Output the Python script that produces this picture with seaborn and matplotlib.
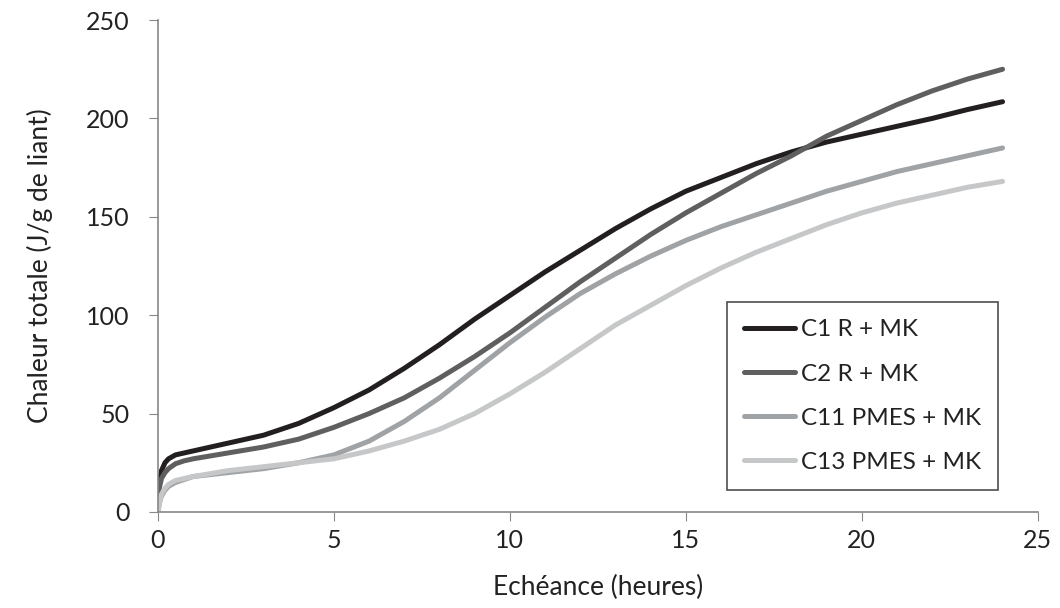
import matplotlib
matplotlib.use("Agg")
import matplotlib.pyplot as plt
import pandas as pd
import seaborn as sns

# heures
hours = [0, 0.05, 0.1, 0.2, 0.3, 0.5, 0.75, 1, 2, 3, 4, 5, 6, 7, 8, 9, 10, 11, 12,
         13, 14, 15, 16, 17, 18, 19, 20, 21, 22, 23, 24]

c1 = [10, 16, 21, 25, 27, 29, 30, 31, 35, 39, 45, 53, 62, 73, 85, 98, 110, 122, 133,
      144, 154, 163, 170, 177, 183, 188, 192, 196, 200, 204.5, 208.5]
c2 = [8, 13, 17, 20, 22, 24.5, 26, 27, 30, 33, 37, 43, 50, 58, 68, 79, 91, 104, 117,
      129, 141, 152, 162, 172, 181, 191, 199, 207, 214, 220, 225]
c11 = [0, 5, 8, 11, 13, 15, 16.5, 18, 20, 22, 25, 29, 36, 46, 58, 72, 86, 99, 111,
       121, 130, 138, 145, 151, 157, 163, 168, 173, 177, 181, 185]
c13 = [0, 5, 9, 12, 14, 16, 17, 18, 21, 23, 25, 27, 31, 36, 42, 50, 60, 71, 83,
       95, 105, 115, 124, 132, 139, 146, 152, 157, 161, 165, 168]

series_names = ["C1 R + MK", "C2 R + MK", "C11 PMES + MK", "C13 PMES + MK"]
series_colors = ["#231f20", "#5f5f5f", "#a0a3a6", "#c6c7c8"]

frames = []
for name, vals in zip(series_names, [c1, c2, c11, c13]):
    frames.append(pd.DataFrame({"heures": hours, "chaleur": vals, "serie": name}))
df = pd.concat(frames, ignore_index=True)

sns.set_style("white")
plt.rcParams["font.family"] = ["Lato", "DejaVu Sans"]

fig = plt.figure(figsize=(10.6, 6.08), dpi=100)
ax = fig.add_axes([0.149, 0.158, 0.830, 0.809])

sns.lineplot(data=df, x="heures", y="chaleur", hue="serie",
             palette=dict(zip(series_names, series_colors)),
             linewidth=3.6, ax=ax, solid_capstyle="round")

ax.set_xlim(0, 25)
ax.set_ylim(0, 250)
ax.set_xticks(range(0, 26, 5))
ax.set_yticks(range(0, 251, 50))
ax.set_xlabel("Echéance (heures)", fontsize=19, color="#222222", labelpad=16)
ax.set_ylabel("Chaleur totale (J/g de liant)", fontsize=19, color="#222222", labelpad=24)
ax.tick_params(axis="both", labelsize=18, colors="#222222", length=6.5,
               direction="out", color="#888888")
ax.tick_params(axis="x", pad=6)
ax.tick_params(axis="y", pad=14)
ax.tick_params(bottom=True, left=True)
for side in ["top", "right"]:
    ax.spines[side].set_visible(False)
for side in ["left", "bottom"]:
    ax.spines[side].set_color("#888888")
    ax.spines[side].set_linewidth(1.2)

leg = ax.legend(loc="lower right", bbox_to_anchor=(0.955, 0.045), borderaxespad=0,
                fontsize=17.5, frameon=True, fancybox=False, handlelength=2.1,
                handletextpad=0.25, labelspacing=0.95, borderpad=0.7)
leg.get_frame().set_edgecolor("#222222")
leg.get_frame().set_linewidth(1.2)
for t in leg.get_texts():
    t.set_color("#222222")

fig.savefig("out.png", dpi=100)
